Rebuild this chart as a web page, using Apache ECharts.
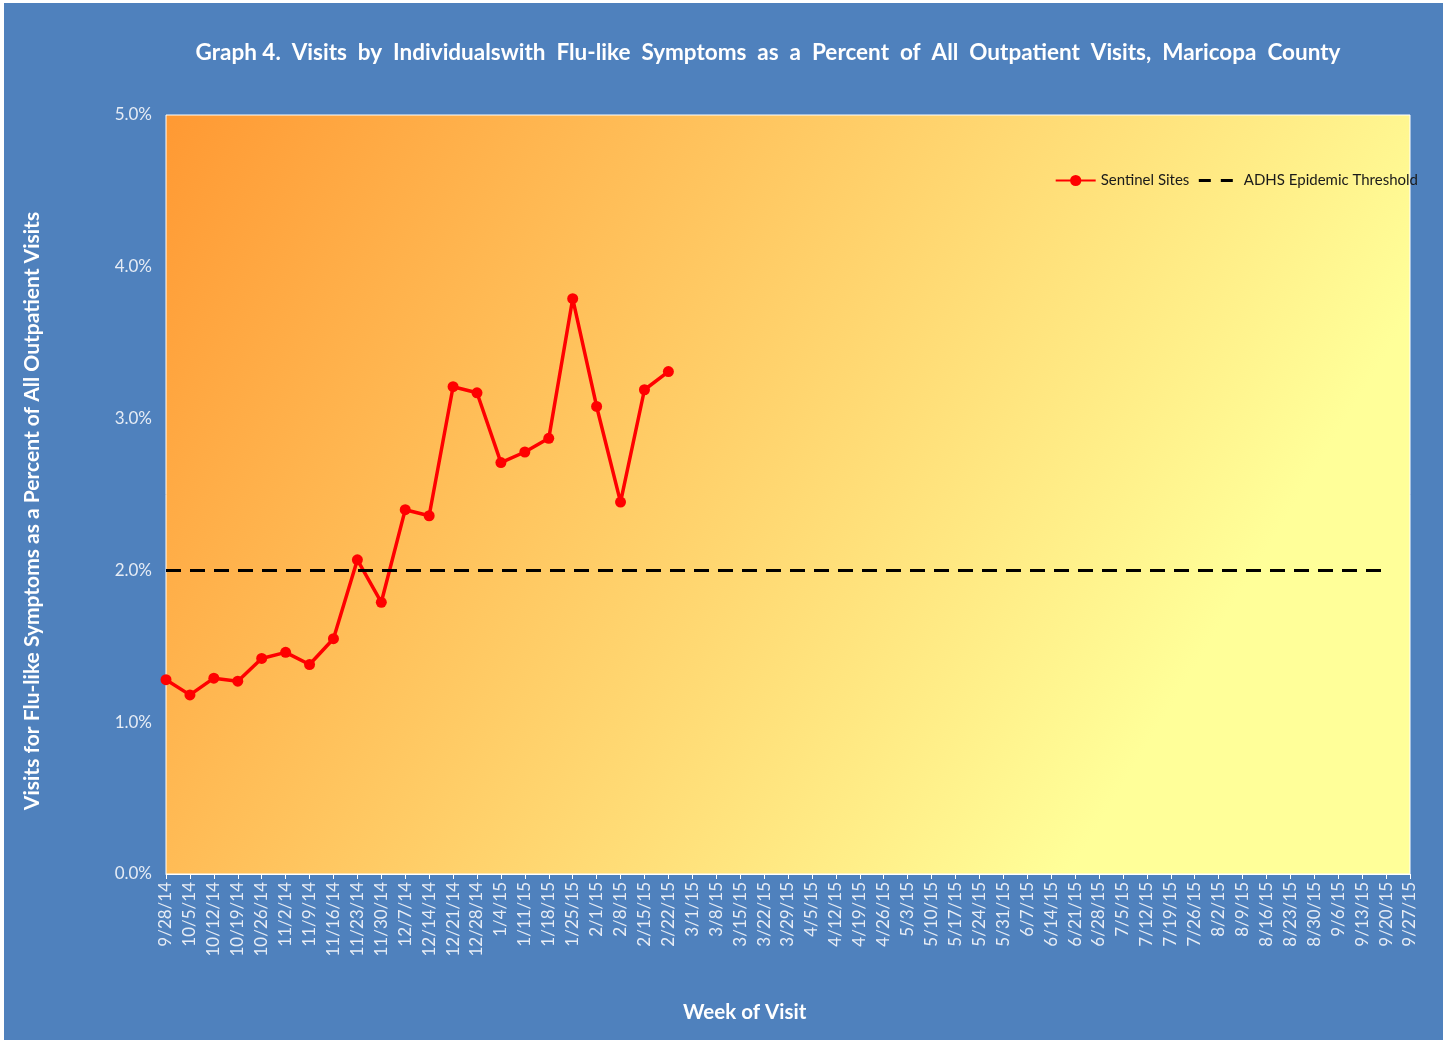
<!DOCTYPE html>
<html>
<head>
<meta charset="utf-8">
<script src="https://cdn.jsdelivr.net/npm/echarts@6/dist/echarts.min.js"></script>
<style>
html,body{margin:0;padding:0;background:#ffffff;}
#chart{position:absolute;left:4px;top:3px;width:1439px;height:1037px;}
</style>
</head>
<body>
<div id="chart"></div>
<script>
var weeks = ['9/28/14','10/5/14','10/12/14','10/19/14','10/26/14','11/2/14','11/9/14','11/16/14','11/23/14','11/30/14',
  '12/7/14','12/14/14','12/21/14','12/28/14','1/4/15','1/11/15','1/18/15','1/25/15','2/1/15','2/8/15','2/15/15','2/22/15',
  '3/1/15','3/8/15','3/15/15','3/22/15','3/29/15','4/5/15','4/12/15','4/19/15','4/26/15','5/3/15','5/10/15','5/17/15',
  '5/24/15','5/31/15','6/7/15','6/14/15','6/21/15','6/28/15','7/5/15','7/12/15','7/19/15','7/26/15','8/2/15','8/9/15',
  '8/16/15','8/23/15','8/30/15','9/6/15','9/13/15','9/20/15','9/27/15'];
var sentinelSites = [1.28,1.18,1.29,1.27,1.42,1.46,1.38,1.55,2.07,1.79,2.40,2.36,3.21,3.17,2.71,2.78,2.87,3.79,3.08,2.45,3.19,3.31];
var epidemicThreshold = [2.0,2.0,2.0,2.0,2.0,2.0,2.0,2.0,2.0,2.0,2.0,2.0,2.0,2.0,2.0,2.0,2.0,2.0,2.0,2.0,2.0,2.0,2.0,2.0,2.0,2.0,
  2.0,2.0,2.0,2.0,2.0,2.0,2.0,2.0,2.0,2.0,2.0,2.0,2.0,2.0,2.0,2.0,2.0,2.0,2.0,2.0,2.0,2.0,2.0,2.0,2.0,2.0];
var yTicks = [0,1,2,3,4,5];

var chart = echarts.init(document.getElementById('chart'));
var font = 'Lato, "Open Sans", sans-serif';
chart.setOption({
  backgroundColor: '#4F81BD',
  animation: false,
  textStyle: {fontFamily: font},
  title: {
    text: 'Graph 4.  Visits  by  Individualswith  Flu-like  Symptoms  as  a  Percent  of  All  Outpatient  Visits,  Maricopa  County',
    left: 759, top: 33, textAlign: 'center',
    textStyle: {color: '#ffffff', fontSize: 22.5, fontWeight: 'bold', fontFamily: font}
  },
  legend: {
    right: 20, top: 165,
    itemWidth: 40, itemHeight: 14, itemGap: 8,
    textStyle: {color: '#1a1a1a', fontSize: 15, fontFamily: font},
    data: [
      {name: 'Sentinel Sites'},
      {name: 'ADHS Epidemic Threshold', itemStyle: {opacity: 0},
       lineStyle: {type: [12, 10], width: 3, color: '#000000'}}
    ]
  },
  graphic: [
    {type: 'text', top: 999, left: 679, style: {text: 'Week of Visit', fill: '#ffffff',
      font: 'bold 20.5px Lato, sans-serif'}},
    {type: 'text', x: 28, y: 508, rotation: Math.PI / 2,
      style: {text: 'Visits for Flu-like Symptoms as a Percent of All Outpatient Visits', fill: '#ffffff',
        font: 'bold 21px Lato, sans-serif', align: 'center', verticalAlign: 'middle'}}
  ],
  grid: {
    left: 162, right: 33, top: 112, bottom: 166,
    show: true, borderColor: '#ffffff', borderWidth: 1,
    backgroundColor: new echarts.graphic.LinearGradient(0, 0, 1, 1, [
      {offset: 0, color: '#FF9933'},
      {offset: 0.8, color: '#FFFF99'},
      {offset: 1, color: '#FFFF99'}
    ])
  },
  xAxis: {
    type: 'category', data: weeks, boundaryGap: false,
    axisLine: {show: true, lineStyle: {color: '#ffffff', width: 1}},
    axisTick: {show: true, length: 5, alignWithLabel: true, interval: 0, lineStyle: {color: '#ffffff'}},
    axisLabel: {rotate: 90, interval: 0, color: '#E6ECF5', fontSize: 17, margin: 8, fontFamily: font},
    splitLine: {show: false}
  },
  yAxis: {
    type: 'value', min: 0, max: 5, interval: 1,
    axisLine: {show: false},
    axisTick: {show: false},
    splitLine: {show: false},
    axisLabel: {color: '#E6ECF5', fontSize: 17, margin: 14, fontFamily: font,
      formatter: function (v) { return yTicks.indexOf(v) >= 0 ? v.toFixed(1) + '%' : ''; }}
  },
  series: [
    {
      name: 'Sentinel Sites', type: 'line', data: sentinelSites,
      symbol: 'circle', symbolSize: 11,
      itemStyle: {color: '#FF0000'},
      lineStyle: {color: '#FF0000', width: 3.5}
    },
    {
      name: 'ADHS Epidemic Threshold', type: 'line', data: epidemicThreshold,
      symbol: 'none',
      itemStyle: {color: '#000000'},
      lineStyle: {color: '#000000', width: 3, type: [15, 9]}
    }
  ]
});
</script>
</body>
</html>
